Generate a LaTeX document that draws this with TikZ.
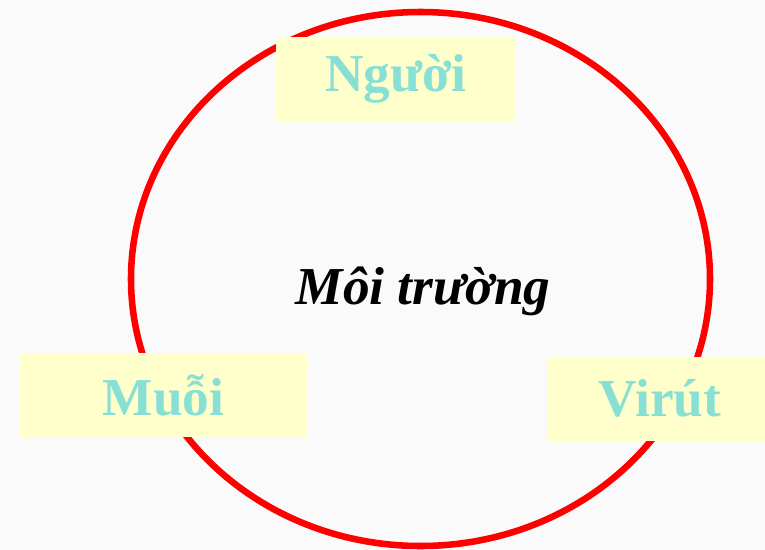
\documentclass[tikz,border=0pt]{standalone}
\usepackage{fontspec}
\setmainfont{Liberation Serif}
\usepackage{tikz}
\definecolor{ringred}{RGB}{255,0,0}
\definecolor{boxfill}{RGB}{255,255,204}
\definecolor{tealtext}{RGB}{136,224,212}
\tikzset{
  namebox/.style={fill=boxfill, draw=none, inner sep=0pt, text=tealtext,
    font=\fontsize{40}{44}\selectfont\bfseries, minimum height=63pt},
}

\begin{document}
\begin{tikzpicture}[x=0.75pt,y=0.75pt,yscale=-1,xscale=1]
\useasboundingbox (0,0) rectangle (765,550);
\fill[white!98!black] (0,0) rectangle (765,550);

%Shape: Ellipse
\draw [color=ringred, line width=4.9pt] (420.5,279) ellipse (289.5 and 267);

% Text Node
\node [namebox, minimum width=180pt] (nguoi) at (396,79) {\raisebox{-3pt}{Người}};
% Text Node
\node [namebox, minimum width=215pt] (muoi) at (163.5,395) {Muỗi};
% Text Node
\node [namebox, minimum width=163.5pt] (virut) at (656,398.5) {\hspace*{6pt}Virút};
% Text Node
\node [inner sep=0pt, font=\fontsize{40}{44}\selectfont\bfseries\itshape] (moitruong) at (423,291) {Môi trường};

\end{tikzpicture}
\end{document}
